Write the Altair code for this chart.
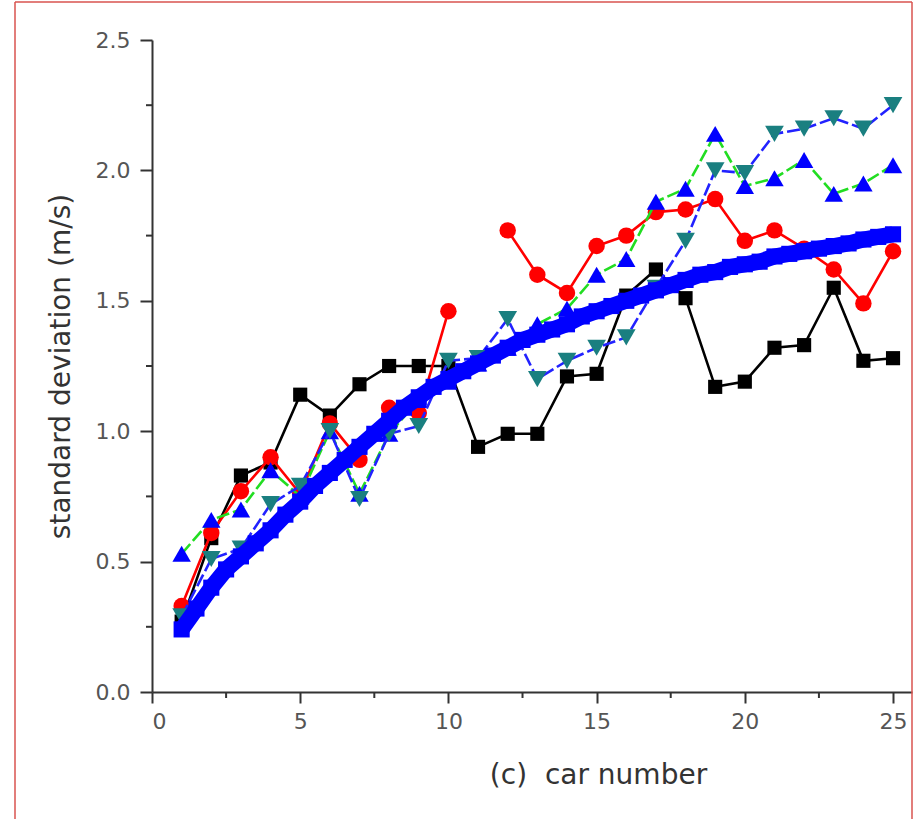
import altair as alt
import pandas as pd

# ---------------- data ----------------
car = list(range(1, 26))
black_sq = [0.27, 0.59, 0.83, 0.88, 1.14, 1.06, 1.18, 1.25, 1.25, 1.25, 0.94, 0.99, 0.99,
            1.21, 1.22, 1.52, 1.62, 1.51, 1.17, 1.19, 1.32, 1.33, 1.55, 1.27, 1.28]
red_circle = [0.33, 0.61, 0.77, 0.90, 0.76, 1.03, 0.89, 1.09, 1.07, 1.46, None, 1.77, 1.60,
              1.53, 1.71, 1.75, 1.84, 1.85, 1.89, 1.73, 1.77, 1.70, 1.62, 1.49, 1.69]
blue_up = [0.53, 0.66, 0.70, 0.85, 0.75, 1.00, 0.76, 0.99, 1.12, 1.19, 1.26, 1.32, 1.41,
           1.47, 1.60, 1.66, 1.88, 1.93, 2.14, 1.94, 1.97, 2.04, 1.91, 1.95, 2.02]
teal_down = [0.29, 0.51, 0.55, 0.72, 0.79, 1.00, 0.74, 0.99, 1.02, 1.27, 1.28, 1.43, 1.20,
             1.27, 1.32, 1.36, 1.55, 1.73, 2.00, 1.99, 2.14, 2.16, 2.20, 2.16, 2.25]
fit_x = [1.0, 1.5, 2.0, 2.5, 3.0, 3.5, 4.0, 4.5, 5.0, 5.5, 6.0, 6.5, 7.0, 7.5, 8.0, 8.5,
         9.0, 9.5, 10.0, 10.5, 11.0, 11.5, 12.0, 12.5, 13.0, 13.5, 14.0, 14.5, 15.0, 15.5,
         16.0, 16.5, 17.0, 17.5, 18.0, 18.5, 19.0, 19.5, 20.0, 20.5, 21.0, 21.5, 22.0, 22.5,
         23.0, 23.5, 24.0, 24.5, 25.0]
fit_y = [0.24, 0.32, 0.40, 0.47, 0.52, 0.57, 0.62, 0.68, 0.73, 0.79, 0.84, 0.89, 0.94,
         0.99, 1.04, 1.09, 1.13, 1.17, 1.20, 1.23, 1.26, 1.29, 1.32, 1.35, 1.37, 1.39,
         1.41, 1.44, 1.46, 1.48, 1.50, 1.52, 1.54, 1.56, 1.58, 1.60, 1.61, 1.63, 1.64,
         1.65, 1.67, 1.68, 1.69, 1.70, 1.71, 1.72, 1.735, 1.745, 1.755]
x_major = [0, 5, 10, 15, 20, 25]
x_minor = [2.5, 7.5, 12.5, 17.5, 22.5]
y_major = [0.0, 0.5, 1.0, 1.5, 2.0, 2.5]
y_minor = [0.25, 0.75, 1.25, 1.75, 2.25]

W, H = 760, 652
FONT = "DejaVu Sans"
AX = "#333333"


def series_df(ys):
    rows, seg = [], 0
    for x, y in zip(car, ys):
        if y is None:
            seg += 1
            continue
        rows.append({"x": x, "y": y, "seg": seg})
    return pd.DataFrame(rows)


x_axis = alt.Axis(values=x_major, format="d", title="(c)\u00a0\u00a0car number", grid=False,
                  domainColor=AX, domainWidth=2, tickColor=AX, tickWidth=2, tickSize=11,
                  labelFont=FONT, labelFontSize=22, labelColor="#555555", labelPadding=8,
                  titleFont=FONT, titleFontSize=28, titleFontWeight="normal", titleColor="#333333",
                  titleX=446, titleY=83, titleAlign="center", titleBaseline="middle")
y_axis = alt.Axis(values=y_major, format=".1f", title="standard deviation (m/s)", grid=False,
                  domainColor=AX, domainWidth=2, tickColor=AX, tickWidth=2, tickSize=12,
                  labelFont=FONT, labelFontSize=22, labelColor="#555555", labelPadding=10,
                  titleFont=FONT, titleFontSize=28, titleFontWeight="normal", titleColor="#333333",
                  titleX=-91, titleY=H / 2, titleAlign="center", titleBaseline="middle")

xs = alt.Scale(domain=[0, 25.64], nice=False, zero=False)
ys = alt.Scale(domain=[0, 2.5], nice=False)


def X():
    return alt.X("x:Q", scale=xs, axis=x_axis)


def Y():
    return alt.Y("y:Q", scale=ys, axis=y_axis)


def series(ys_, line_color, marker_color, shape, size, dash=None):
    df = series_df(ys_)
    line_kw = dict(color=line_color, strokeWidth=2.6)
    if dash:
        line_kw["strokeDash"] = dash
    line = alt.Chart(df).mark_line(**line_kw).encode(x=X(), y=Y(), detail="seg:N")
    pts = alt.Chart(df).mark_point(shape=shape, filled=True, opacity=1, size=size,
                                   color=marker_color).encode(x=X(), y=Y())
    return [line, pts]


layers = []
layers += series(black_sq, "#000000", "#000000", "square", 200)
layers += series(red_circle, "#ff0000", "#ff0000", "circle", 270)
layers += series(blue_up, "#22dd22", "#0000ff", "triangle-up", 340, dash=[13, 4])
layers += series(teal_down, "#2222ff", "#1a7f80", "triangle-down", 350, dash=[13, 4])

fit_df = pd.DataFrame({"x": fit_x, "y": fit_y})
layers.append(alt.Chart(fit_df).mark_line(color="#0000ff", strokeWidth=16).encode(x=X(), y=Y()))
layers.append(alt.Chart(fit_df).mark_point(shape="square", filled=True, opacity=1, size=260,
                                           color="#0000ff").encode(x=X(), y=Y()))

# minor ticks
layers.append(alt.Chart(pd.DataFrame({"x": x_minor})).mark_rule(color=AX, strokeWidth=2).encode(
    x=X(), y=alt.value(H), y2=alt.value(H + 6)))
layers.append(alt.Chart(pd.DataFrame({"y": y_minor})).mark_rule(color=AX, strokeWidth=2).encode(
    y=Y(), x=alt.value(0), x2=alt.value(-6)))

# red frame around the figure
one = pd.DataFrame({"k": [0]})
BC = "#d9534f"
layers.append(alt.Chart(one).mark_rule(color=BC, strokeWidth=1.5).encode(
    x=alt.value(-137), y=alt.value(-38), y2=alt.value(H + 130)))
layers.append(alt.Chart(one).mark_rule(color=BC, strokeWidth=1.5).encode(
    x=alt.value(760), y=alt.value(-38), y2=alt.value(H + 130)))
layers.append(alt.Chart(one).mark_rule(color=BC, strokeWidth=1.5).encode(
    x=alt.value(-137), x2=alt.value(760), y=alt.value(-38)))

chart = alt.layer(*layers).properties(
    width=W, height=H,
    autosize=alt.AutoSizeParams(type="none"),
    padding={"left": 152, "top": 40, "right": 7, "bottom": 127},
    background="white",
).configure_view(stroke=None)

chart.save("out.html", embed_options={"renderer": "svg", "actions": False})
